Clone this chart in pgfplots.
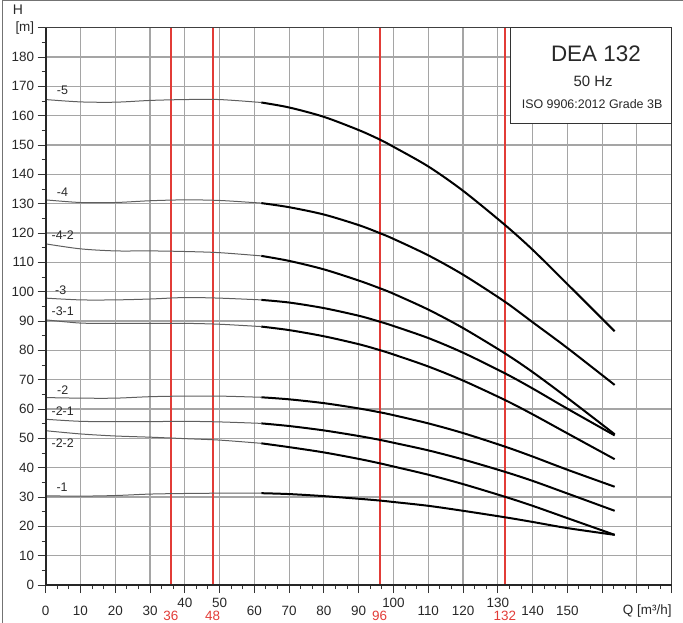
\documentclass[border=0pt]{standalone}
\usepackage{fontspec}
\setmainfont{Liberation Sans}
\usepackage{pgfplots}
\pgfplotsset{compat=1.18}

\definecolor{gridgray}{RGB}{165,165,165}
\definecolor{refred}{RGB}{226,60,55}
\definecolor{thingray}{RGB}{95,95,95}
\definecolor{txt}{RGB}{40,40,40}

\pgfplotsset{
  thinc/.style={thingray, line width=1bp, smooth},
  thickc/.style={black, line width=2bp, smooth},
  flowline/.style={refred, line width=1.9bp},
}

\begin{document}
\begin{tikzpicture}
\path[use as bounding box] (-45.7bp,-37.5bp) rectangle (637.3bp,585bp);
\begin{axis}[
  at={(0,0)}, anchor=south west,
  scale only axis, width=626bp, height=557.3bp,
  clip=false,
  xmin=0, xmax=180, ymin=0, ymax=190,
  xtick={0,10,...,180},
  xticklabels={0,10,20,30,,,60,70,80,90,,110,120,,140,150,,,},
  ytick={0,10,...,190},
  yticklabels={0,10,20,30,40,50,60,70,80,90,100,110,120,130,140,150,160,170,180,[m]},
  minor x tick num=2, minor y tick num=1,
  tick pos=left, tick align=outside,
  major tick length=8bp, minor tick length=4bp,
  grid=major, major grid style={gridgray, line width=1.1bp},
  every tick/.style={black!80, line width=1bp},
  axis line style={black!75, line width=1bp},
  xticklabel style={anchor=base, yshift=-22bp, font=\fontsize{13.5}{16}\selectfont, text=txt},
  yticklabel style={anchor=east, font=\fontsize{13.5}{16}\selectfont, text=txt},
]
% marked flow rates
\addplot[flowline] coordinates {(36,0) (36,190)};
\addplot[flowline] coordinates {(48,0) (48,190)};
\addplot[flowline] coordinates {(96,0) (96,190)};
\addplot[flowline] coordinates {(132,0) (132,190)};
% -5
\addplot[thinc] coordinates {(0,165.5) (10,164.7) (20,164.6) (30,165.2) (40,165.5) (50,165.5) (62,164.5)};
\addplot[thickc] coordinates {(62,164.5) (70,162.8) (80,159.6) (90,155.1) (96,151.9) (100,149.4) (110,142.7) (120,134.4) (132,122.8) (140,114.3) (150,102.6) (163.6,86.5)};
% -4
\addplot[thinc] coordinates {(0,131.3) (10,130.4) (20,130.4) (30,131.0) (40,131.3) (50,131.1) (62,130.2)};
\addplot[thickc] coordinates {(62,130.2) (70,128.8) (80,126.3) (90,122.7) (96,120.0) (100,118.0) (110,112.4) (120,105.8) (132,96.6) (140,89.6) (150,80.8) (163.6,68.2)};
% -4-2
\addplot[thinc] coordinates {(0,116.3) (10,114.6) (20,113.9) (30,113.9) (40,113.7) (50,113.3) (62,112.2)};
\addplot[thickc] coordinates {(62,112.2) (70,110.5) (80,107.6) (90,103.8) (96,101.2) (100,99.3) (110,93.9) (120,87.6) (132,79.0) (140,72.6) (150,63.8) (163.6,51.4)};
% -3
\addplot[thinc] coordinates {(0,97.8) (10,97.2) (20,97.2) (30,97.5) (40,98.0) (50,97.8) (62,97.2)};
\addplot[thickc] coordinates {(62,97.2) (70,96.3) (80,94.4) (90,91.8) (96,89.8) (100,88.3) (110,84.2) (120,79.2) (132,72.2) (140,67.0) (150,60.1) (163.6,51.0)};
% -3-1
\addplot[thinc] coordinates {(0,90.4) (10,89.3) (20,89.2) (30,89.2) (40,89.2) (50,88.9) (62,88.1)};
\addplot[thickc] coordinates {(62,88.1) (70,86.9) (80,84.8) (90,82.1) (96,80.1) (100,78.6) (110,74.5) (120,69.7) (132,63.1) (140,58.2) (150,51.7) (163.6,42.9)};
% -2
\addplot[thinc] coordinates {(0,63.9) (10,63.7) (20,63.7) (30,64.2) (40,64.4) (50,64.4) (62,64.0)};
\addplot[thickc] coordinates {(62,64.0) (70,63.3) (80,62.0) (90,60.2) (96,58.9) (100,57.9) (110,55.1) (120,51.8) (132,47.2) (140,43.8) (150,39.3) (163.6,33.5)};
% -2-1
\addplot[thinc] coordinates {(0,56.5) (10,55.8) (20,55.7) (30,55.7) (40,55.8) (50,55.6) (62,55.1)};
\addplot[thickc] coordinates {(62,55.1) (70,54.2) (80,52.7) (90,50.8) (96,49.5) (100,48.5) (110,45.9) (120,42.8) (132,38.6) (140,35.5) (150,31.2) (163.6,25.3)};
% -2-2
\addplot[thinc] coordinates {(0,52.6) (10,51.5) (20,50.8) (30,50.4) (40,49.9) (50,49.4) (62,48.3)};
\addplot[thickc] coordinates {(62,48.3) (70,47.0) (80,45.2) (90,43.0) (96,41.5) (100,40.4) (110,37.6) (120,34.4) (132,30.1) (140,27.0) (150,22.8) (163.6,17.1)};
% -1
\addplot[thinc] coordinates {(0,30.4) (10,30.3) (20,30.5) (30,31.0) (40,31.2) (50,31.3) (62,31.3)};
\addplot[thickc] coordinates {(62,31.3) (70,31.0) (80,30.3) (90,29.4) (96,28.8) (100,28.3) (110,27.0) (120,25.3) (132,23.1) (140,21.5) (150,19.4) (163.6,17.1)};

% curve names
\begin{scope}[every node/.style={font=\fontsize{12.5}{15}\selectfont, text=txt, inner sep=0pt}]
\node at (axis cs:4.8,168.8) {-5};
\node at (axis cs:4.8,134.0) {-4};
\node at (axis cs:4.9,119.4) {-4-2};
\node at (axis cs:4.3,100.6) {-3};
\node at (axis cs:4.9,93.2) {-3-1};
\node at (axis cs:4.9,66.5) {-2};
\node at (axis cs:4.9,59.1) {-2-1};
\node at (axis cs:4.9,48.5) {-2-2};
\node at (axis cs:4.7,33.5) {-1};
\end{scope}

% title box
\draw[black!80, line width=1.3bp, fill=white] (axis cs:133.7,190) rectangle (axis cs:180,157.3);
\node[font=\fontsize{22.5}{26}\selectfont, text=txt, inner sep=0pt] at (axis cs:158.2,181.2) {DEA 132};
\node[font=\fontsize{15}{18}\selectfont, text=txt, inner sep=0pt] at (axis cs:157.4,171.6) {50 Hz};
\node[font=\fontsize{12.5}{15}\selectfont, text=txt, inner sep=0pt] at (axis cs:157.1,164.1) {ISO 9906:2012 Grade 3B};

% heavier left and bottom axis lines
\draw[black!85, line width=2bp] (rel axis cs:0,1) -- (rel axis cs:0,0) -- (rel axis cs:1,0);

% raised tick labels and the marked flow rates
\begin{scope}[every node/.style={font=\fontsize{13.5}{16}\selectfont, anchor=base, inner sep=0pt}]
\node[text=txt] at (axis cs:40,0) [yshift=-22.8bp] {40};
\node[text=txt] at (axis cs:50,0) [yshift=-22.8bp] {50};
\node[text=txt] at (axis cs:100,0) [yshift=-22.8bp] {100};
\node[text=txt] at (axis cs:130,0) [yshift=-22.8bp] {130};
\node[text=refred] at (axis cs:36,0) [yshift=-35.6bp] {36};
\node[text=refred] at (axis cs:48,0) [yshift=-35.6bp] {48};
\node[text=refred] at (axis cs:96,0) [yshift=-35.6bp] {96};
\node[text=refred] at (axis cs:132,0) [yshift=-35.6bp] {132};
\end{scope}

\node[font=\fontsize{13.5}{16}\selectfont, text=txt, anchor=base east, inner sep=0pt] at (rel axis cs:1,0) [yshift=-29.8bp] {Q [m³/h]};
\node[font=\fontsize{14}{16}\selectfont, text=txt, inner sep=0pt] at (rel axis cs:0,1) [xshift=-27.7bp, yshift=17.7bp] {H};
\end{axis}
\draw[black!55, line width=1bp] (-43bp,-37.5bp) -- (-43bp,584.5bp) -- (637.3bp,584.5bp);
\end{tikzpicture}
\end{document}
